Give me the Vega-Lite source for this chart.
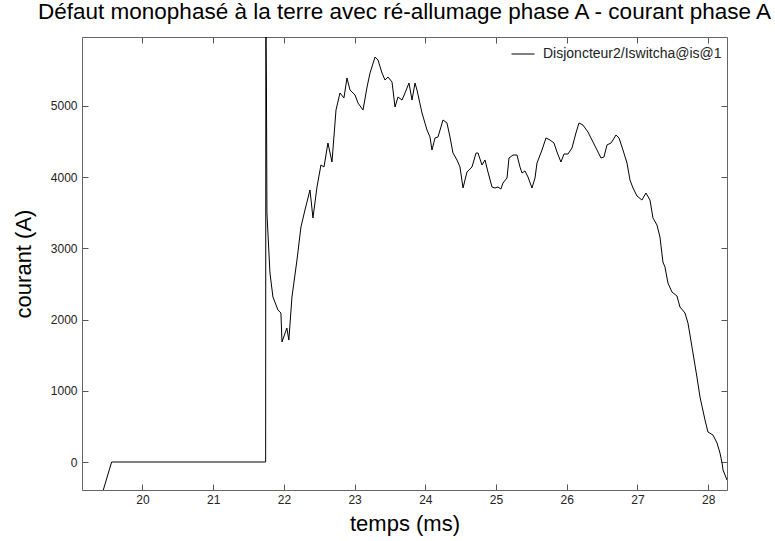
{
  "$schema": "https://vega.github.io/schema/vega-lite/v6.json",
  "width": 645,
  "height": 453,
  "autosize": {"type": "none"},
  "padding": {"left": 82, "top": 37, "right": 48, "bottom": 51},
  "background": "white",
  "title": {
    "text": "Défaut monophasé à la terre avec ré-allumage phase A - courant phase A",
    "fontSize": 22.5,
    "font": "Liberation Sans",
    "fontWeight": "normal",
    "color": "black",
    "anchor": "middle",
    "offset": 13
  },
  "config": {
    "view": {"stroke": null},
    "font": "Liberation Sans",
    "axis": {
      "grid": false,
      "domainColor": "#666666",
      "tickColor": "#555555",
      "labelColor": "#222222",
      "labelFont": "Liberation Sans",
      "labelFontSize": 12,
      "titleFont": "Liberation Sans",
      "titleFontSize": 22,
      "titleFontWeight": "normal",
      "titleColor": "black"
    }
  },
  "data": {
    "values": [
      {"t": 19.446, "i": -393},
      {"t": 19.564, "i": 0},
      {"t": 21.742, "i": 0},
      {"t": 21.745, "i": 6300},
      {"t": 21.753, "i": 5320},
      {"t": 21.760, "i": 3496},
      {"t": 21.803, "i": 2654},
      {"t": 21.845, "i": 2317},
      {"t": 21.916, "i": 2134},
      {"t": 21.958, "i": 2092},
      {"t": 21.973, "i": 1685},
      {"t": 22.042, "i": 1881},
      {"t": 22.070, "i": 1713},
      {"t": 22.114, "i": 2317},
      {"t": 22.185, "i": 2836},
      {"t": 22.241, "i": 3299},
      {"t": 22.298, "i": 3538},
      {"t": 22.369, "i": 3819},
      {"t": 22.411, "i": 3426},
      {"t": 22.468, "i": 3861},
      {"t": 22.524, "i": 4170},
      {"t": 22.567, "i": 4142},
      {"t": 22.623, "i": 4479},
      {"t": 22.680, "i": 4212},
      {"t": 22.737, "i": 4942},
      {"t": 22.793, "i": 5181},
      {"t": 22.849, "i": 5111},
      {"t": 22.892, "i": 5391},
      {"t": 22.935, "i": 5223},
      {"t": 23.006, "i": 5153},
      {"t": 23.048, "i": 5040},
      {"t": 23.119, "i": 4942},
      {"t": 23.176, "i": 5265},
      {"t": 23.218, "i": 5462},
      {"t": 23.289, "i": 5686},
      {"t": 23.331, "i": 5644},
      {"t": 23.387, "i": 5462},
      {"t": 23.430, "i": 5363},
      {"t": 23.472, "i": 5405},
      {"t": 23.529, "i": 5335},
      {"t": 23.571, "i": 4984},
      {"t": 23.614, "i": 5125},
      {"t": 23.670, "i": 5082},
      {"t": 23.713, "i": 5181},
      {"t": 23.769, "i": 5321},
      {"t": 23.812, "i": 5082},
      {"t": 23.854, "i": 5321},
      {"t": 23.882, "i": 5223},
      {"t": 23.953, "i": 4900},
      {"t": 24.024, "i": 4661},
      {"t": 24.066, "i": 4563},
      {"t": 24.094, "i": 4380},
      {"t": 24.137, "i": 4549},
      {"t": 24.179, "i": 4563},
      {"t": 24.250, "i": 4802},
      {"t": 24.306, "i": 4760},
      {"t": 24.349, "i": 4563},
      {"t": 24.391, "i": 4338},
      {"t": 24.448, "i": 4240},
      {"t": 24.490, "i": 4142},
      {"t": 24.533, "i": 3847},
      {"t": 24.589, "i": 4072},
      {"t": 24.660, "i": 4142},
      {"t": 24.717, "i": 4338},
      {"t": 24.745, "i": 4338},
      {"t": 24.801, "i": 4170},
      {"t": 24.844, "i": 4240},
      {"t": 24.886, "i": 4072},
      {"t": 24.943, "i": 3861},
      {"t": 24.985, "i": 3847},
      {"t": 25.027, "i": 3861},
      {"t": 25.069, "i": 3833},
      {"t": 25.098, "i": 3917},
      {"t": 25.155, "i": 3987},
      {"t": 25.183, "i": 4268},
      {"t": 25.240, "i": 4310},
      {"t": 25.296, "i": 4310},
      {"t": 25.339, "i": 4142},
      {"t": 25.367, "i": 4058},
      {"t": 25.409, "i": 4086},
      {"t": 25.452, "i": 4001},
      {"t": 25.508, "i": 3847},
      {"t": 25.551, "i": 3987},
      {"t": 25.579, "i": 4198},
      {"t": 25.650, "i": 4380},
      {"t": 25.706, "i": 4549},
      {"t": 25.763, "i": 4521},
      {"t": 25.819, "i": 4479},
      {"t": 25.862, "i": 4352},
      {"t": 25.918, "i": 4212},
      {"t": 25.961, "i": 4324},
      {"t": 26.017, "i": 4324},
      {"t": 26.074, "i": 4409},
      {"t": 26.130, "i": 4619},
      {"t": 26.173, "i": 4760},
      {"t": 26.229, "i": 4731},
      {"t": 26.300, "i": 4633},
      {"t": 26.371, "i": 4493},
      {"t": 26.442, "i": 4352},
      {"t": 26.484, "i": 4268},
      {"t": 26.526, "i": 4282},
      {"t": 26.569, "i": 4451},
      {"t": 26.626, "i": 4479},
      {"t": 26.654, "i": 4521},
      {"t": 26.696, "i": 4591},
      {"t": 26.739, "i": 4549},
      {"t": 26.795, "i": 4380},
      {"t": 26.852, "i": 4198},
      {"t": 26.894, "i": 3959},
      {"t": 26.937, "i": 3847},
      {"t": 26.993, "i": 3735},
      {"t": 27.063, "i": 3678},
      {"t": 27.120, "i": 3777},
      {"t": 27.177, "i": 3678},
      {"t": 27.219, "i": 3426},
      {"t": 27.276, "i": 3327},
      {"t": 27.318, "i": 3159},
      {"t": 27.360, "i": 2808},
      {"t": 27.389, "i": 2738},
      {"t": 27.431, "i": 2513},
      {"t": 27.488, "i": 2387},
      {"t": 27.558, "i": 2331},
      {"t": 27.601, "i": 2176},
      {"t": 27.672, "i": 2092},
      {"t": 27.714, "i": 1952},
      {"t": 27.771, "i": 1615},
      {"t": 27.841, "i": 1193},
      {"t": 27.884, "i": 913},
      {"t": 27.955, "i": 590},
      {"t": 27.997, "i": 421},
      {"t": 28.068, "i": 379},
      {"t": 28.125, "i": 267},
      {"t": 28.167, "i": 126},
      {"t": 28.196, "i": -14},
      {"t": 28.210, "i": -112},
      {"t": 28.266, "i": -253}
    ]
  },
  "layer": [
    {
      "mark": {"type": "line", "clip": true, "strokeWidth": 1, "interpolate": "linear"},
      "encoding": {
        "x": {
          "field": "t", "type": "quantitative",
          "scale": {"domain": [19.145, 28.266], "nice": false, "zero": false},
          "axis": {"orient": "bottom", "values": [20, 21, 22, 23, 24, 25, 26, 27, 28], "tickSize": -6, "labelPadding": 10, "title": "temps (ms)", "titlePadding": 8}
        },
        "y": {
          "field": "i", "type": "quantitative",
          "scale": {"domain": [-393, 5967], "nice": false, "zero": false},
          "axis": {"orient": "left", "values": [0, 1000, 2000, 3000, 4000, 5000], "format": "d", "tickSize": -6, "labelPadding": 11, "title": "courant (A)", "titlePadding": 15}
        },
        "color": {
          "datum": "Disjoncteur2/Iswitcha@is@1",
          "type": "nominal",
          "scale": {"range": ["black"]},
          "legend": {
            "orient": "top-right",
            "title": null,
            "symbolType": "stroke",
            "symbolSize": 529,
            "symbolStrokeWidth": 1,
            "labelFontSize": 14,
            "labelLimit": 400,
            "labelFont": "Liberation Sans",
            "labelColor": "#222222",
            "labelOffset": 8,
            "offset": 5,
            "padding": 0
          }
        }
      }
    },
    {
      "mark": {"type": "line", "opacity": 0, "clip": true},
      "encoding": {
        "x": {
          "field": "t", "type": "quantitative",
          "axis": {"orient": "top", "values": [20, 21, 22, 23, 24, 25, 26, 27, 28], "tickSize": -6, "labels": false, "title": null}
        },
        "y": {
          "field": "i", "type": "quantitative",
          "axis": {"orient": "right", "values": [0, 1000, 2000, 3000, 4000, 5000], "tickSize": -6, "labels": false, "title": null}
        }
      }
    }
  ],
  "resolve": {"axis": {"x": "independent", "y": "independent"}}
}
